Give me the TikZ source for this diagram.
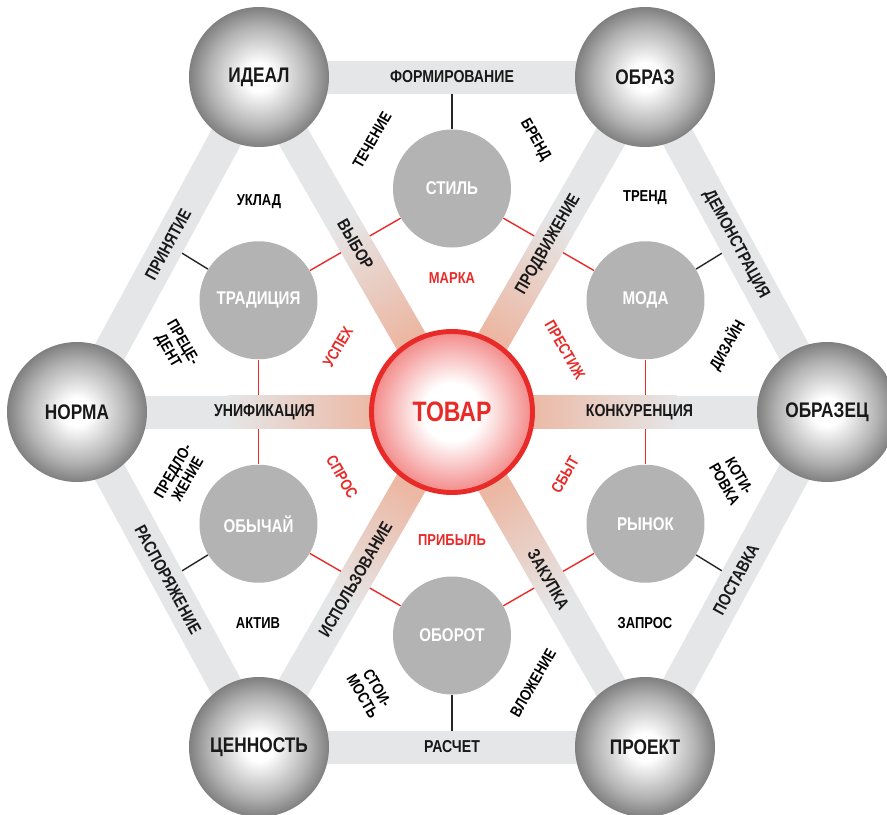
\documentclass[tikz,border=0pt]{standalone}
\usepackage{fontspec}
\setmainfont{Liberation Sans}[FakeStretch=0.82]
\usetikzlibrary{calc}
\pgfdeclarelayer{lines}
\pgfdeclarelayer{bands}
\pgfsetlayers{lines,bands,main}
\definecolor{bandgray}{RGB}{229,230,231}
\definecolor{innergray}{RGB}{179,179,179}
\definecolor{tovarred}{RGB}{232,42,40}
\definecolor{glowpeach}{RGB}{236,184,164}
\pgfdeclareradialshading{ballgray}{\pgfpoint{0bp}{0bp}}{color(0bp)=(white); color(5bp)=(white); color(18bp)=(black!30); color(25bp)=(black!50); color(50bp)=(black!50)}
\pgfdeclareradialshading{balltovar}{\pgfpoint{0bp}{0bp}}{color(0bp)=(white); color(9bp)=(white); color(25bp)=(tovarred!55); color(50bp)=(tovarred!55)}
\begin{document}
\begin{tikzpicture}[
    outer/.style={circle, minimum size=2.8cm, inner sep=0pt, shade, shading=ballgray, font=\bfseries\fontsize{12}{12}\selectfont, text=black!90},
    inner/.style={circle, minimum size=2.36cm, inner sep=0pt, fill=innergray, font=\bfseries\fontsize{10.5}{10.5}\selectfont, text=white},
    tovar/.style={circle, minimum size=3.22cm, inner sep=0pt, shade, shading=balltovar, draw=tovarred, line width=2.8pt, font=\bfseries\fontsize{16}{16}\selectfont, text=tovarred},
    band/.style={line width=0.66cm, bandgray},
    bandtext/.style={font=\bfseries\fontsize{9.8}{9.8}\selectfont, text=black!90, inner sep=0pt},
    glow/.style={sloped, allow upside down, minimum width=3cm, minimum height=0.66cm, inner sep=0pt, bottom color=glowpeach, top color=bandgray, shading angle=#1},
    note/.style={font=\bfseries\fontsize{9}{9.6}\selectfont, align=center, inner sep=0pt},
    rednote/.style={note, text=tovarred},
    blackline/.style={black!85, line width=0.8pt},
    redline/.style={tovarred, line width=0.8pt},
]
\useasboundingbox (-9.04,-8.06) rectangle (8.7,8.24);

% centre and outer ring
\node[tovar] (tovar) at (0,0) {ТОВАР};
\node[outer] (ideal) at (-3.86,6.7) {ИДЕАЛ};
\node[outer] (obraz) at (3.86,6.7) {ОБРАЗ};
\node[outer] (norma) at (-7.5,0) {НОРМА};
\node[outer] (obrazec) at (7.5,0) {ОБРАЗЕЦ};
\node[outer] (cennost) at (-3.86,-6.7) {ЦЕННОСТЬ};
\node[outer] (proekt) at (3.86,-6.7) {ПРОЕКТ};

% inner ring
\node[inner] (stil) at (0,4.47) {СТИЛЬ};
\node[inner] (moda) at (3.87,2.235) {МОДА};
\node[inner] (rynok) at (3.87,-2.235) {РЫНОК};
\node[inner] (oborot) at (0,-4.47) {ОБОРОТ};
\node[inner] (obychaj) at (-3.87,-2.235) {ОБЫЧАЙ};
\node[inner] (tradiciya) at (-3.87,2.235) {ТРАДИЦИЯ};

\coordinate (mform) at ($(ideal)!.5!(obraz)$);
\coordinate (mdemo) at ($(obraz)!.5!(obrazec)$);
\coordinate (mpost) at ($(obrazec)!.5!(proekt)$);
\coordinate (mrasch) at ($(proekt)!.5!(cennost)$);
\coordinate (mrasp) at ($(cennost)!.5!(norma)$);
\coordinate (mprin) at ($(norma)!.5!(ideal)$);

\begin{pgfonlayer}{lines}
\foreach \a/\b in {stil/moda, moda/rynok, rynok/oborot, oborot/obychaj, obychaj/tradiciya, tradiciya/stil}
    \draw[redline] (\a) -- (\b);
\draw[blackline] (stil) -- (mform);
\draw[blackline] (moda) -- (mdemo);
\draw[blackline] (rynok) -- (mpost);
\draw[blackline] (oborot) -- (mrasch);
\draw[blackline] (obychaj) -- (mrasp);
\draw[blackline] (tradiciya) -- (mprin);
\end{pgfonlayer}

\begin{pgfonlayer}{bands}
% hexagon
\draw[band] (ideal.center) -- (obraz.center) node[midway, bandtext] {ФОРМИРОВАНИЕ};
\draw[band] (obraz.center) -- (obrazec.center) node[midway, sloped, bandtext] {ДЕМОНСТРАЦИЯ};
\draw[band] (obrazec.center) -- (proekt.center) node[midway, sloped, bandtext] {ПОСТАВКА};
\draw[band] (cennost.center) -- (proekt.center) node[midway, bandtext] {РАСЧЕТ};
\draw[band] (norma.center) -- (cennost.center) node[midway, sloped, bandtext] {РАСПОРЯЖЕНИЕ};
\draw[band] (norma.center) -- (ideal.center) node[midway, sloped, bandtext] {ПРИНЯТИЕ};
% spokes
\draw[band] (tovar.center) -- (ideal.center) node[pos=0.4, glow=30] {} node[midway, sloped, bandtext] {ВЫБОР};
\draw[band] (tovar.center) -- (obraz.center) node[pos=0.4, glow=-30] {} node[midway, sloped, bandtext] {ПРОДВИЖЕНИЕ};
\draw[band] (tovar.center) -- (obrazec.center) node[pos=0.4, glow=-90] {} node[midway, bandtext] {КОНКУРЕНЦИЯ};
\draw[band] (tovar.center) -- (proekt.center) node[pos=0.4, glow=-150] {} node[midway, sloped, bandtext] {ЗАКУПКА};
\draw[band] (tovar.center) -- (cennost.center) node[pos=0.4, glow=150] {} node[midway, sloped, bandtext] {ИСПОЛЬЗОВАНИЕ};
\draw[band] (tovar.center) -- (norma.center) node[pos=0.4, glow=90] {} node[midway, bandtext] {УНИФИКАЦИЯ};
\end{pgfonlayer}

% black notes
\node[note, rotate=60] (techenie) at (-1.6,5.44) {ТЕЧЕНИЕ};
\node[note, rotate=-60] (brend) at (1.66,5.44) {БРЕНД};
\node[note] (uklad) at (-3.86,4.2) {УКЛАД};
\node[note] (trend) at (3.86,4.28) {ТРЕНД};
\node[note, rotate=-60] (precedent) at (-5.54,1.3) {ПРЕЦЕ-\\ДЕНТ};
\node[note, rotate=60] (dizajn) at (5.5,1.34) {ДИЗАЙН};
\node[note, rotate=60] (predlozh) at (-5.44,-1.26) {ПРЕДЛО-\\ЖЕНИЕ};
\node[note, rotate=-60] (kotirovka) at (5.6,-1.36) {КОТИ-\\РОВКА};
\node[note] (aktiv) at (-3.88,-4.22) {АКТИВ};
\node[note] (zapros) at (3.86,-4.22) {ЗАПРОС};
\node[note, rotate=-60] (stoimost) at (-1.64,-5.6) {СТОИ-\\МОСТЬ};
\node[note, rotate=60] (vlozhenie) at (1.62,-5.42) {ВЛОЖЕНИЕ};

% red notes
\node[rednote] (marka) at (0,2.68) {МАРКА};
\node[rednote, rotate=-60] (prestizh) at (2.26,1.24) {ПРЕСТИЖ};
\node[rednote, rotate=60] (sbyt) at (2.26,-1.26) {СБЫТ};
\node[rednote] (pribyl) at (0,-2.56) {ПРИБЫЛЬ};
\node[rednote, rotate=-60] (spros) at (-2.2,-1.3) {СПРОС};
\node[rednote, rotate=60] (uspekh) at (-2.28,1.3) {УСПЕХ};
\end{tikzpicture}
\end{document}
